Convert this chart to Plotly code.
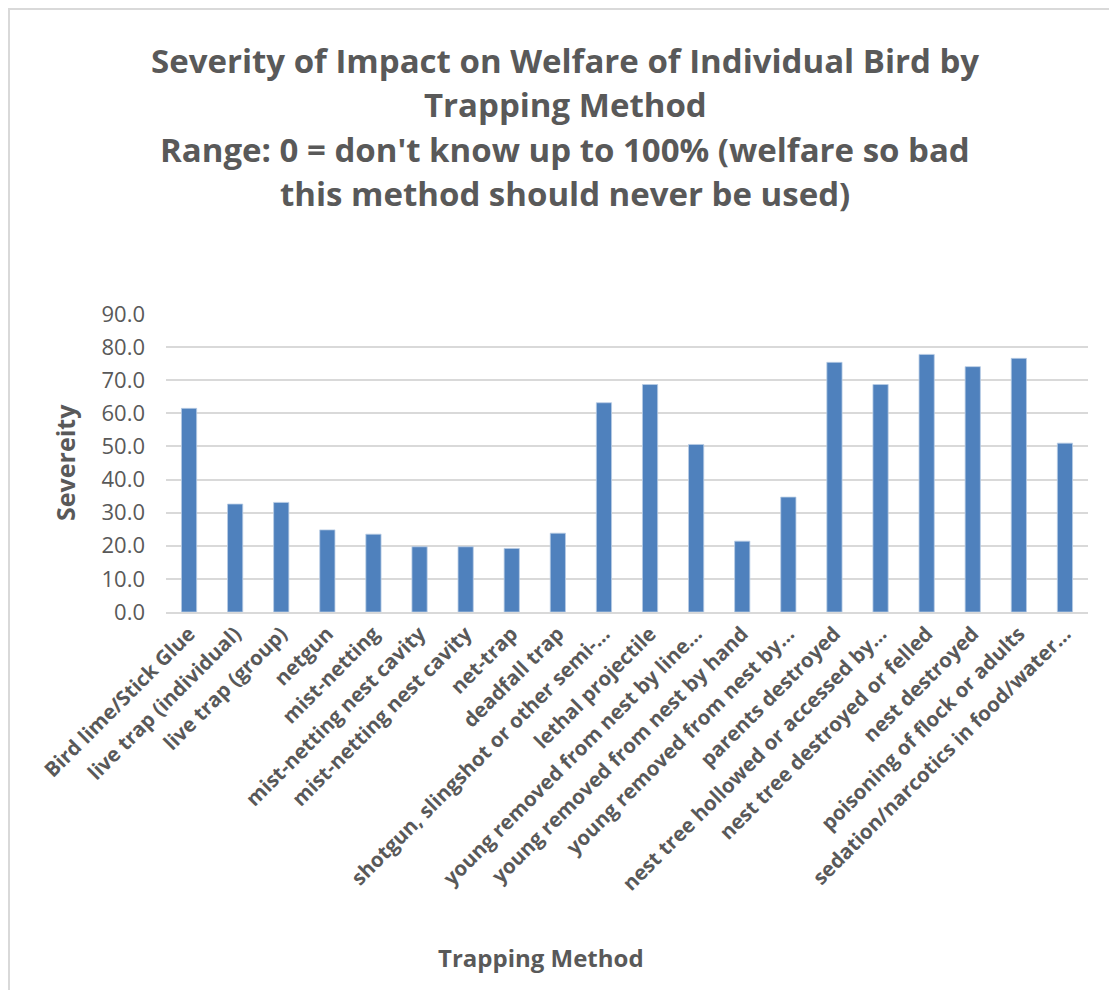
import plotly.graph_objects as go

# Trapping methods (category labels as shown on the axis, long ones shortened)
methods = [
    "Bird lime/Stick Glue",
    "live trap (individual)",
    "live trap (group)",
    "netgun",
    "mist-netting",
    "mist-netting nest cavity",
    "mist-netting nest cavity",
    "net-trap",
    "deadfall trap",
    "shotgun, slingshot or other semi-…",
    "lethal projectile",
    "young removed from nest by line…",
    "young removed from nest by hand",
    "young removed from nest by…",
    "parents destroyed",
    "nest tree hollowed or accessed by…",
    "nest tree destroyed or felled",
    "nest destroyed",
    "poisoning of flock or adults",
    "sedation/narcotics in food/water…",
]

# Severity score for each method
severity = [61.5, 32.6, 33.1, 24.8, 23.5, 19.7, 19.7, 19.2, 23.8, 63.2,
            68.7, 50.6, 21.4, 34.7, 75.4, 68.7, 77.8, 74.1, 76.6, 51.0]

y_ticks = [0, 10, 20, 30, 40, 50, 60, 70, 80, 90]

title_lines = [
    "Severity of Impact on Welfare of Individual Bird by",
    "Trapping Method",
    "Range: 0 = don't know up to 100% (welfare so bad",
    "this method should never be used)",
]

GREY = "#595959"
FONT = "Open Sans"
W, H = 1109, 990
ML, MR, MT, MB = 166, 21, 314, 378

# positions are indices so that repeated labels stay separate bars
xs = list(range(len(methods)))

fig = go.Figure(
    go.Bar(
        x=xs,
        y=severity,
        marker=dict(color="#4f81bd", line=dict(color="#b9cde5", width=0.8)),
        width=0.33,
    )
)

fig.update_layout(
    width=W,
    height=H,
    margin=dict(l=ML, r=MR, t=MT, b=MB),
    paper_bgcolor="white",
    plot_bgcolor="white",
    showlegend=False,
    font=dict(family=FONT, color=GREY),
)

fig.update_xaxes(
    tickmode="array",
    tickvals=xs,
    ticktext=methods,
    tickangle=-45,
    tickfont=dict(family=FONT, size=20.5, color=GREY, weight="bold"),
    range=[-0.5, len(methods) - 0.5],
    showgrid=False,
    zeroline=False,
    showline=True,
    linecolor="#d9d9d9",
    linewidth=1.5,
    ticks="",
)

fig.update_yaxes(
    range=[0, 90],
    tickmode="array",
    tickvals=y_ticks,
    ticktext=[f"{v:.1f}" for v in y_ticks],
    tickfont=dict(family=FONT, size=22, color=GREY),
    showgrid=True,
    gridcolor="#d9d9d9",
    gridwidth=1.5,
    zeroline=False,
    ticks="",
    ticklabelstandoff=20,
)

def px_to_paper_y(py):
    return (H - MB - py) / (H - MT - MB)

def px_to_paper_x(px):
    return (px - ML) / (W - ML - MR)

annotations = []
for text, py in zip(title_lines, [60, 104, 150, 193]):
    annotations.append(dict(
        text=text, xref="paper", yref="paper",
        x=px_to_paper_x(565), y=px_to_paper_y(py),
        xanchor="center", yanchor="middle", showarrow=False,
        font=dict(family=FONT, size=33, color=GREY, weight="bold"),
    ))

annotations.append(dict(
    text="Severeity", xref="paper", yref="paper",
    x=px_to_paper_x(65), y=px_to_paper_y(463),
    xanchor="center", yanchor="middle", textangle=-90, showarrow=False,
    font=dict(family=FONT, size=25, color=GREY, weight="bold"),
))
annotations.append(dict(
    text="Trapping Method", xref="paper", yref="paper",
    x=px_to_paper_x(541), y=px_to_paper_y(957),
    xanchor="center", yanchor="middle", showarrow=False,
    font=dict(family=FONT, size=24, color=GREY, weight="bold"),
))
fig.update_layout(annotations=annotations)

# chart frame
fig.add_shape(
    type="rect", xref="paper", yref="paper",
    x0=px_to_paper_x(9), x1=px_to_paper_x(W + 20),
    y0=px_to_paper_y(H + 20), y1=px_to_paper_y(9),
    line=dict(color="#d9d9d9", width=2), layer="below",
)

fig.write_html("out.html")
